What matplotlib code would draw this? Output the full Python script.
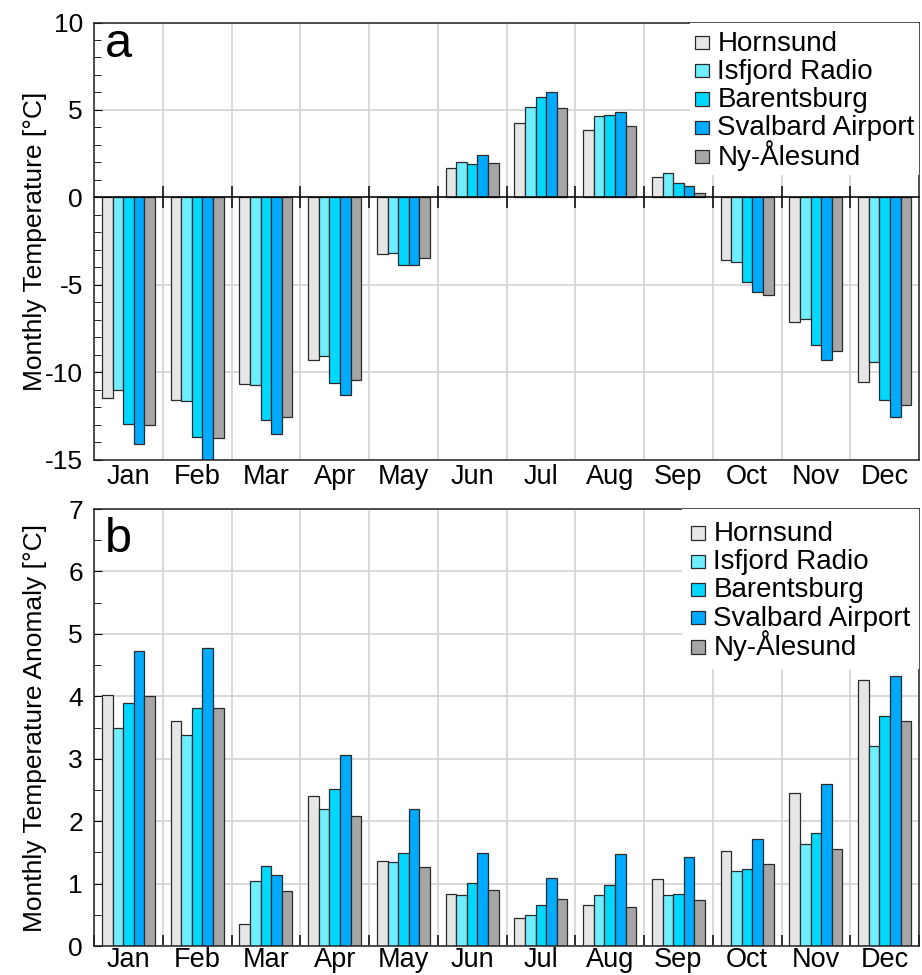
import matplotlib
matplotlib.use("Agg")
import matplotlib.pyplot as plt
import numpy as np
from matplotlib.container import BarContainer
from matplotlib.legend_handler import HandlerPatch
from matplotlib.patches import Rectangle


MONTHS = ["Jan", "Feb", "Mar", "Apr", "May", "Jun", "Jul", "Aug", "Sep", "Oct", "Nov", "Dec"]
STATIONS = ["Hornsund", "Isfjord Radio", "Barentsburg", "Svalbard Airport", "Ny-Ålesund"]
COLORS = ["#e6e6e6", "#6eeeff", "#00d8ff", "#00aaff", "#a6a6a6"]

# monthly mean temperature [degC]
hornsund_t = [-11.5, -11.6, -10.7, -9.3, -3.25, 1.66, 4.27, 3.84, 1.15, -3.6, -7.13, -10.55]
isfjord_t = [-11.05, -11.63, -10.76, -9.05, -3.17, 2.0, 5.17, 4.66, 1.37, -3.71, -6.94, -9.43]
barentsburg_t = [-12.95, -13.69, -12.76, -10.61, -3.88, 1.93, 5.74, 4.71, 0.84, -4.85, -8.44, -11.58]
airport_t = [-14.13, -15.2, -13.52, -11.31, -3.88, 2.4, 6.03, 4.89, 0.67, -5.4, -9.28, -12.59]
nyalesund_t = [-13.02, -13.78, -12.59, -10.44, -3.48, 1.98, 5.1, 4.1, 0.25, -5.59, -8.82, -11.86]

# monthly temperature anomaly [degC]
hornsund_a = [4.02, 3.61, 0.36, 2.4, 1.37, 0.84, 0.45, 0.65, 1.07, 1.52, 2.45, 4.26]
isfjord_a = [3.49, 3.38, 1.04, 2.19, 1.34, 0.81, 0.49, 0.81, 0.81, 1.2, 1.64, 3.2]
barentsburg_a = [3.89, 3.81, 1.29, 2.52, 1.49, 1.01, 0.65, 0.97, 0.84, 1.24, 1.81, 3.68]
airport_a = [4.73, 4.78, 1.13, 3.06, 2.19, 1.49, 1.09, 1.47, 1.42, 1.72, 2.59, 4.33]
nyalesund_a = [4.0, 3.81, 0.88, 2.09, 1.27, 0.9, 0.76, 0.62, 0.73, 1.32, 1.55, 3.6]

plt.rcParams["font.family"] = ["Liberation Sans", "DejaVu Sans"]
plt.rcParams["axes.unicode_minus"] = False

BAR_W = 0.154
EDGE = "#2a2a2a"
GRID = "#d2d2d2"


def small_square(legend, orig_handle, xdescent, ydescent, width, height, fontsize):
    # small swatch inside a tall handle box, so every legend row gets the same height
    s = 0.48 * fontsize
    return Rectangle((-xdescent + (width - s) / 2, -ydescent + (height - s) / 2 - 0.05 * fontsize), s, s)


def copy_bar_style(tgt, src):
    first = next(iter(src.get_children()), None)
    if first is not None:
        tgt.update_from(first)


def draw_bars(ax, series, legend_pad=0.3):
    centers = np.arange(len(MONTHS)) + 0.5
    for k, (vals, name, col) in enumerate(zip(series, STATIONS, COLORS)):
        ax.bar(centers + (k - 2) * BAR_W, vals, BAR_W, color=col, edgecolor=EDGE,
               linewidth=0.9, label=name, zorder=2)
    ax.set_xlim(0, len(MONTHS))
    ax.set_xticks(np.arange(len(MONTHS) + 1))
    ax.set_xticklabels([])
    ax.set_xticks(centers, minor=True)
    ax.set_xticklabels(MONTHS, minor=True, fontsize=19.5)
    ax.tick_params(axis="x", which="both", length=0, pad=3)
    ax.grid(True, which="major", color=GRID, lw=1.2, zorder=0)
    ax.set_axisbelow(True)
    ax.tick_params(axis="y", which="both", direction="in", labelsize=19, pad=8)
    ax.tick_params(axis="y", which="major", length=6)
    ax.tick_params(axis="y", which="minor", length=5)
    for sp in ax.spines.values():
        sp.set_linewidth(1.1)
        sp.set_color("#222222")
    handler = HandlerPatch(patch_func=small_square, update_func=copy_bar_style)
    leg = ax.legend(loc="upper right", fontsize=20, frameon=True, fancybox=False,
                    framealpha=1, edgecolor="none", borderaxespad=0, borderpad=legend_pad,
                    handlelength=0.55, handleheight=1.2, handletextpad=0.28,
                    labelspacing=-0.05, handler_map={BarContainer: handler})
    leg.set_zorder(5)
    ax.yaxis.set_label_coords(-0.057, 0.5)


def main(save=True):
    fig = plt.figure(figsize=(9.22, 9.75), dpi=100)
    ax_a = fig.add_axes([0.102, 0.5287, 0.8948, 0.4482])
    ax_b = fig.add_axes([0.102, 0.0297, 0.8948, 0.4482])

    draw_bars(ax_a, [hornsund_t, isfjord_t, barentsburg_t, airport_t, nyalesund_t], legend_pad=0.16)
    ax_a.set_ylim(-15, 10)
    ax_a.set_yticks(np.arange(-15, 11, 5))
    ax_a.set_yticks(np.arange(-15, 11, 1), minor=True)
    ax_a.set_ylabel("Monthly Temperature [°C]", fontsize=19)
    ax_a.text(0.013, 0.921, "a", transform=ax_a.transAxes, fontsize=35, va="baseline")

    # zero line with month-boundary ticks crossing it
    zero = ax_a.twiny()
    zero.set_xlim(ax_a.get_xlim())
    zero.xaxis.set_ticks_position("bottom")
    zero.spines["bottom"].set_position(("data", 0))
    zero.spines["bottom"].set_linewidth(1.1)
    for side in ("top", "left", "right"):
        zero.spines[side].set_visible(False)
    zero.set_xticks(np.arange(1, len(MONTHS)))
    zero.tick_params(axis="x", direction="inout", length=16, width=1.1,
                     labelbottom=False, labeltop=False)
    zero.set_zorder(ax_a.get_zorder() + 1)

    draw_bars(ax_b, [hornsund_a, isfjord_a, barentsburg_a, airport_a, nyalesund_a])
    ax_b.set_ylim(0, 7)
    ax_b.set_yticks(np.arange(0, 8, 1))
    ax_b.set_yticks(np.arange(0, 7.01, 0.5), minor=True)
    ax_b.tick_params(axis="x", which="major", direction="in", length=8, width=1.1)
    ax_b.tick_params(axis="x", which="minor", pad=1)
    ax_b.set_ylabel("Monthly Temperature Anomaly [°C]", fontsize=19)
    ax_b.text(0.013, 0.9016, "b", transform=ax_b.transAxes, fontsize=35, va="baseline")

    if save:
        fig.savefig("out.png", dpi=100)
    return fig


if __name__ == "__main__":
    main(save=True)
